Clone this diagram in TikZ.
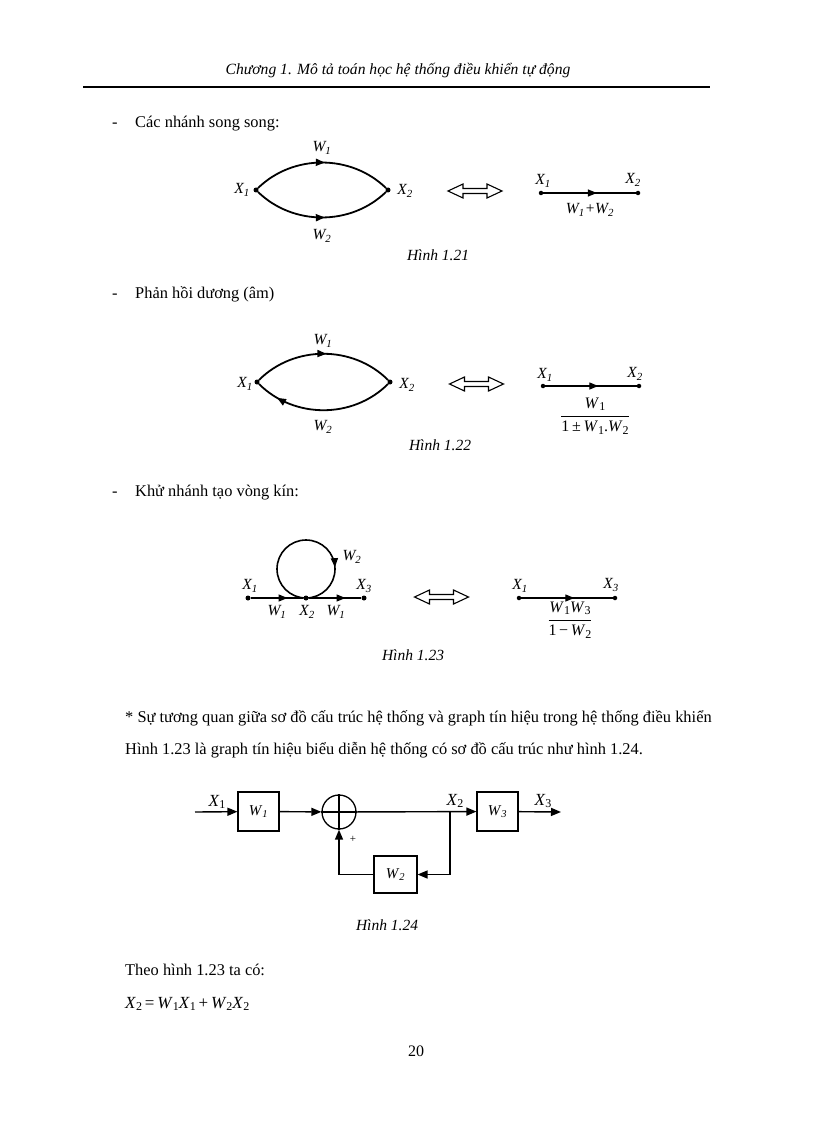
\documentclass[tikz,border=0pt]{standalone}
\usepackage{fontspec}
\setmainfont{Liberation Serif}
\usetikzlibrary{arrows.meta,decorations.markings}
\newcommand{\gl}[2]{\textit{#1}\textsubscript{\textit{#2}}}
\newcommand{\ml}[2]{\textit{#1}\textsubscript{#2}}
\newcommand{\bl}[2]{\textit{#1}\raisebox{-0.3ex}{\fontsize{12}{13}\selectfont #2}}
\newcommand{\dblarr}[1]{\draw[dblline,shift={#1}] (-27,0) -- (-12,-7) -- (-12,-2.5) -- (12,-2.5) -- (12,-7) -- (27,0) -- (12,7) -- (12,2.5) -- (-12,2.5) -- (-12,7) -- cycle;}
\tikzset{
  dot/.style={circle,fill,inner sep=0pt,minimum size=5pt},
  lbl/.style={font=\fontsize{15.5}{17}\selectfont\itshape,inner sep=0pt},
  captxt/.style={font=\fontsize{15.5}{18}\selectfont\itshape,inner sep=0pt},
  body/.style={font=\fontsize{16.4}{20}\selectfont,inner sep=0pt,anchor=base west},
  arcline/.style={line width=1.8pt},
  thinline/.style={line width=1.3pt},
  dblline/.style={line width=1.1pt,line join=miter},
  midarrow/.style={postaction={decorate,decoration={markings,mark=at position #1 with {\arrow{Triangle[length=9pt,width=7pt]}}}}},
  blk/.style={draw,line width=1.1pt,minimum width=41pt,minimum height=39pt,inner sep=0pt,font=\fontsize{15}{16}\selectfont},
  sig/.style={line width=1.4pt,-{Triangle[length=10pt,width=8pt]}},
  fr/.style={font=\fontsize{16}{18}\selectfont,inner sep=0pt},
  xl/.style={font=\fontsize{17}{18}\selectfont,inner sep=0pt}
}
\begin{document}
\begin{tikzpicture}[x=1pt,y=-1pt]
\useasboundingbox[fill=white] (0,0) rectangle (816,1123);

% header
\node[font=\fontsize{15.6}{18}\selectfont\itshape,inner sep=0pt,anchor=base] (hdr) at (398,75) {Chương 1. Mô tả toán học hệ thống điều khiển tự động};
\draw[line width=2pt] (83,87) -- (710,87);

% section 1
\node[body] (d1) at (112,128) {-};
\node[body] (t1) at (135,128) {Các nhánh song song:};

% Fig 1.21
\node[dot] (a1) at (256,190) {};
\node[dot] (a2) at (388,190) {};
\draw[arcline,midarrow=0.52] (a1) .. controls (293,154) and (351,154) .. (a2);
\draw[arcline,midarrow=0.52] (a1) .. controls (293,226) and (351,226) .. (a2);
\node[lbl] (a1l) at (242,190) {\gl{X}{1}};
\node[lbl] (a2l) at (405,191) {\gl{X}{2}};
\node[lbl] (aw1) at (322,148) {\gl{W}{1}};
\node[lbl] (aw2) at (322,236) {\gl{W}{2}};
\dblarr{(475,191)}
\node[dot,minimum size=4.5pt] (b1) at (541,193) {};
\node[dot,minimum size=4.5pt] (b2) at (638,193) {};
\draw[thinline,midarrow=0.58] (b1) -- (b2);
\node[lbl] (b1l) at (543,181) {\gl{X}{1}};
\node[lbl] (b2l) at (633,180) {\gl{X}{2}};
\node[lbl] (bw) at (590,210) {\gl{W}{1}+\gl{W}{2}};
\node[captxt] (c21) at (438,255) {Hình 1.21};

% section 2
\node[body] (d2) at (112,298) {-};
\node[body] (t2) at (135,298) {Phản hồi dương (âm)};

% Fig 1.22
\node[dot] (c1) at (257,382) {};
\node[dot] (c2) at (390,382) {};
\draw[arcline,midarrow=0.52] (c1) .. controls (294,345) and (353,345) .. (c2);
\draw[arcline,midarrow=0.84] (c2) .. controls (353,419) and (294,419) .. (c1);
\node[lbl] (c1l) at (245,384) {\gl{X}{1}};
\node[lbl] (c2l) at (407,385) {\gl{X}{2}};
\node[lbl] (cw1) at (323,341) {\gl{W}{1}};
\node[lbl] (cw2) at (323,427) {\gl{W}{2}};
\dblarr{(476.5,384)}
\node[dot,minimum size=4.5pt] (e1) at (543,386) {};
\node[dot,minimum size=4.5pt] (e2) at (639,386) {};
\draw[thinline,midarrow=0.58] (e1) -- (e2);
\node[lbl] (e1l) at (545,375) {\gl{X}{1}};
\node[lbl] (e2l) at (635,374) {\gl{X}{2}};
\node[fr] (ef) at (595,416) {$\displaystyle\frac{\hbox{\bl{W}{1}}\rule[-3pt]{0pt}{12pt}}{\rule{0pt}{13pt}\hbox{1\,±\,\bl{W}{1}.\bl{W}{2}}}$};
\node[captxt] (c22) at (440,445) {Hình 1.22};

% section 3
\node[body] (d3) at (112,496) {-};
\node[body] (t3) at (135,496) {Khử nhánh tạo vòng kín:};

% Fig 1.23
\node[dot] (f1) at (248,598) {};
\node[dot] (f2) at (306,598) {};
\node[dot] (f3) at (364,598) {};
\draw[thinline,midarrow=0.7] (f1) -- (f2);
\draw[thinline,midarrow=0.7] (f2) -- (f3);
\draw[line width=1.6pt,midarrow=0.74] (306,598) arc[start angle=90,end angle=450,radius=29];
\node[lbl] (f1l) at (250,586) {\gl{X}{1}};
\node[lbl] (f3l) at (364,586) {\gl{X}{3}};
\node[lbl] (fw1) at (277,612) {\gl{W}{1}};
\node[lbl] (f2l) at (307,612) {\gl{X}{2}};
\node[lbl] (fw3) at (336,612) {\gl{W}{1}};
\node[lbl] (fw2) at (352,557) {\gl{W}{2}};
\dblarr{(441.5,597)}
\node[dot,minimum size=4.5pt] (g1) at (519,598) {};
\node[dot,minimum size=4.5pt] (g2) at (615,598) {};
\draw[thinline,midarrow=0.58] (g1) -- (g2);
\node[lbl] (g1l) at (520,586) {\gl{X}{1}};
\node[lbl] (g2l) at (611,585) {\gl{X}{3}};
\node[fr] (gf) at (570,620) {$\displaystyle\frac{\hbox{\bl{W}{1}\bl{W}{3}}\rule[-3pt]{0pt}{12pt}}{\rule{0pt}{13pt}\hbox{1\,\textminus\,\bl{W}{2}}}$};
\node[captxt] (c23) at (413,655) {Hình 1.23};

% paragraph
\node[body] (p1) at (125,722) {* Sự tương quan giữa sơ đồ cấu trúc hệ thống và graph tín hiệu trong hệ thống điều khiển};
\node[body] (p2) at (125,754) {Hình 1.23 là graph tín hiệu biểu diễn hệ thống có sơ đồ cấu trúc như hình 1.24.};

% Fig 1.24
\coordinate (in) at (195,812);
\node[blk] (w1) at (258.5,811.5) {\gl{W}{1}};
\node[circle,draw,line width=1.3pt,minimum size=34pt,inner sep=0pt] (sum) at (339,812) {};
\draw[line width=1.1pt] (sum.north) -- (sum.south) (sum.west) -- (sum.east);
\coordinate (br) at (450,812);
\node[blk] (w3) at (497.5,811.5) {\gl{W}{3}};
\coordinate (out) at (561,812);
\node[blk,minimum width=43pt,minimum height=37pt] (w2) at (395.5,874.5) {\gl{W}{2}};
\draw[sig] (in) -- (w1);
\draw[sig] (w1) -- (sum);
\draw[sig] (sum) -- (w3);
\draw[sig] (w3) -- (out);
\draw[sig] (br) |- (w2);
\draw[sig] (w2) -| (sum);
\node[xl] (x1l) at (217,802) {\bl{X}{1}};
\node[xl] (x2l) at (455,801) {\bl{X}{2}};
\node[xl] (x3l) at (543,801) {\bl{X}{3}};
\node[font=\fontsize{11}{12}\selectfont,inner sep=0pt] (plus) at (353,839) {+};
\node[captxt] (c24) at (387,925) {Hình 1.24};

% closing text
\node[body] (p3) at (125,975) {Theo hình 1.23 ta có:};
\node[body,font=\fontsize{17}{20}\selectfont] (eq) at (125,1008) {\bl{X}{2}\,=\,\bl{W}{1}\bl{X}{1}\,+\,\bl{W}{2}\bl{X}{2}};
\node[font=\fontsize{16}{18}\selectfont,inner sep=0pt] (pg) at (416,1051) {20};
\end{tikzpicture}
\end{document}
